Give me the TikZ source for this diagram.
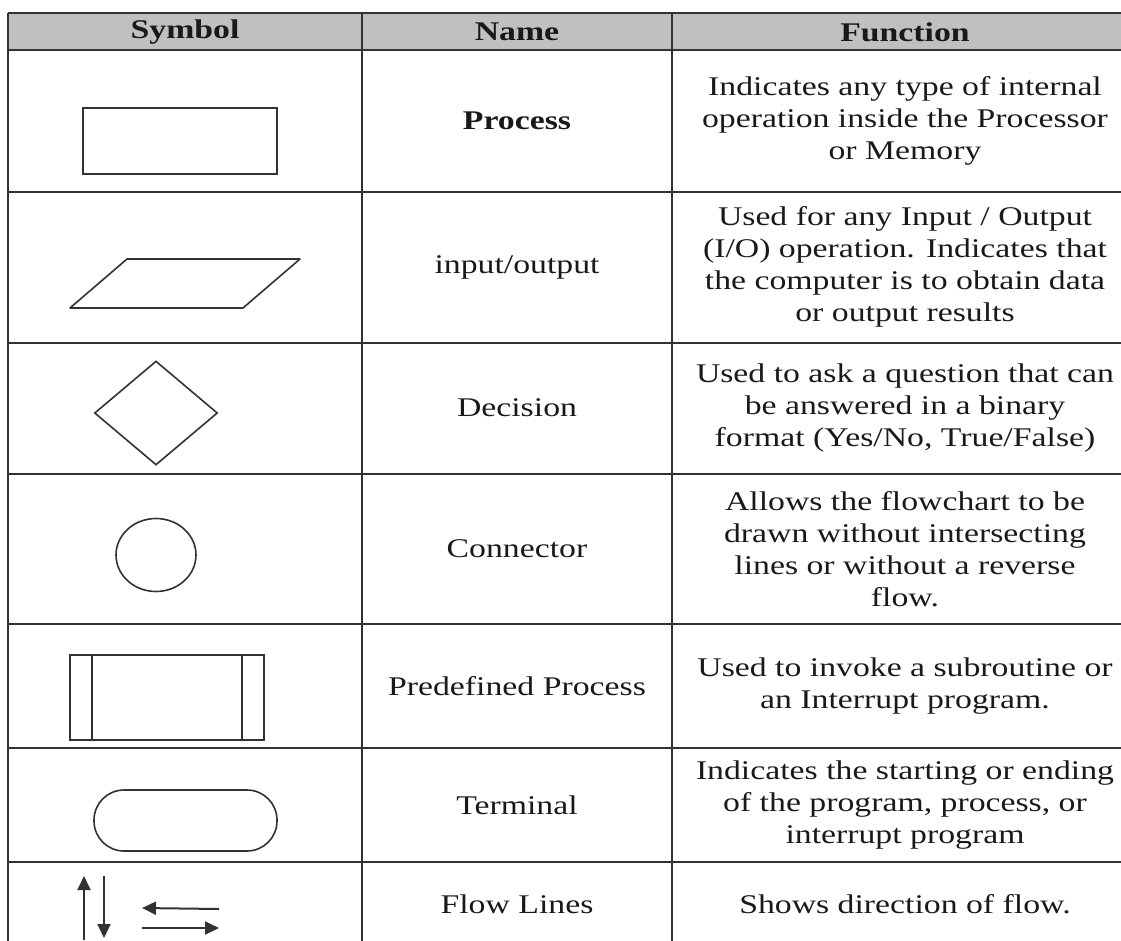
\documentclass[tikz,border=0pt]{standalone}
\usepackage{fontspec}
\setmainfont{Liberation Serif}[FakeStretch=1.25]
\usepackage{tikz}
\usetikzlibrary{shapes, arrows.meta, positioning, calc}
\definecolor{headGray}{RGB}{192, 192, 192}
\definecolor{ruleInk}{RGB}{50, 50, 50}
\definecolor{textInk}{RGB}{25, 25, 25}

\begin{document}
\begin{tikzpicture}[x=1pt, y=-1pt,
    symb/.style={draw=ruleInk, line width=1.6pt, inner sep=0pt},
    cell/.style={text=textInk, align=center, inner sep=0pt, font=\fontsize{27}{32}\selectfont},
    flow/.style={-{Triangle[length=14pt, width=13pt]}, line width=2pt, color=ruleInk}]
    \useasboundingbox (0,0) rectangle (1121,940);
    \clip (0,0) rectangle (1121,940);

    % Table grid
    \fill[headGray] (8,13) rectangle (1140,50);
    \foreach \y in {13, 50, 192, 343, 474, 624, 748, 862}
        \draw[ruleInk, line width=1.6pt] (8,\y) -- (1140,\y);
    \draw[ruleInk, line width=2.2pt] (8,13) -- (8,950);
    \foreach \x in {362, 672}
        \draw[ruleInk, line width=1.5pt] (\x,13) -- (\x,950);

    % Header
    \node[cell, font=\fontsize{27}{32}\selectfont\bfseries] (hsym) at (185,32) {Symbol};
    \node[cell, font=\fontsize{27}{32}\selectfont\bfseries] (hname) at (517,32) {Name};
    \node[cell, font=\fontsize{27}{32}\selectfont\bfseries] (hfunc) at (905,32) {Function};

    % Symbols
    \node[symb, minimum width=194, minimum height=66] (procsym) at (180,141) {};
    \draw[ruleInk, line width=1.6pt, line join=round] (70,308) -- (127,259) -- (300,259) -- (243,308) -- cycle;
    \node[symb, diamond, minimum width=123, minimum height=104] (decsym) at (156,413) {};
    \node[symb, ellipse, minimum width=80, minimum height=73] (consym) at (156,555) {};
    \node[symb, minimum width=194, minimum height=85] (predsym) at (167,697.5) {};
    \draw[ruleInk, line width=1.6pt] ([xshift=23]predsym.north west) -- ([xshift=23]predsym.south west);
    \draw[ruleInk, line width=1.6pt] ([xshift=-23]predsym.north east) -- ([xshift=-23]predsym.south east);
    \node[symb, minimum width=183, minimum height=61, rounded corners=30pt] (termsym) at (185.5,820.5) {};

    % Flow lines
    \coordinate (upA) at (84,940);
    \coordinate (upB) at (84,876);
    \coordinate (dnA) at (104,876);
    \coordinate (dnB) at (104,938);
    \coordinate (lfA) at (219,909);
    \coordinate (lfB) at (142,908);
    \coordinate (rtA) at (142,928);
    \coordinate (rtB) at (219,928);
    \draw[flow] (upA) -- (upB);
    \draw[flow] (dnA) -- (dnB);
    \draw[flow] (lfA) -- (lfB);
    \draw[flow] (rtA) -- (rtB);

    % Names
    \node[cell, font=\fontsize{27}{32}\selectfont\bfseries] (nproc) at (517,121) {Process};
    \node[cell] (nio) at (517,267) {input/output};
    \node[cell] (ndec) at (517,408) {Decision};
    \node[cell] (ncon) at (517,549) {Connector};
    \node[cell] (npred) at (517,686) {Predefined Process};
    \node[cell] (nterm) at (517,805) {Terminal};
    \node[cell] (nflow) at (517,904) {Flow Lines};

    % Functions
    \node[cell] (fproc) at (905,121) {Indicates any type of internal\\operation inside the Processor\\or Memory};
    \node[cell] (fio) at (905,267) {Used for any Input / Output\\(I/O) operation. Indicates that\\the computer is to obtain data\\or output results};
    \node[cell] (fdec) at (905,408) {Used to ask a question that can\\be answered in a binary\\format (Yes/No, True/False)};
    \node[cell] (fcon) at (905,549) {Allows the flowchart to be\\drawn without intersecting\\lines or without a reverse\\flow.};
    \node[cell] (fpred) at (905,686) {Used to invoke a subroutine or\\an Interrupt program.};
    \node[cell] (fterm) at (905,805) {Indicates the starting or ending\\of the program, process, or\\interrupt program};
    \node[cell] (fflow) at (905,904) {Shows direction of flow.};
\end{tikzpicture}
\end{document}
